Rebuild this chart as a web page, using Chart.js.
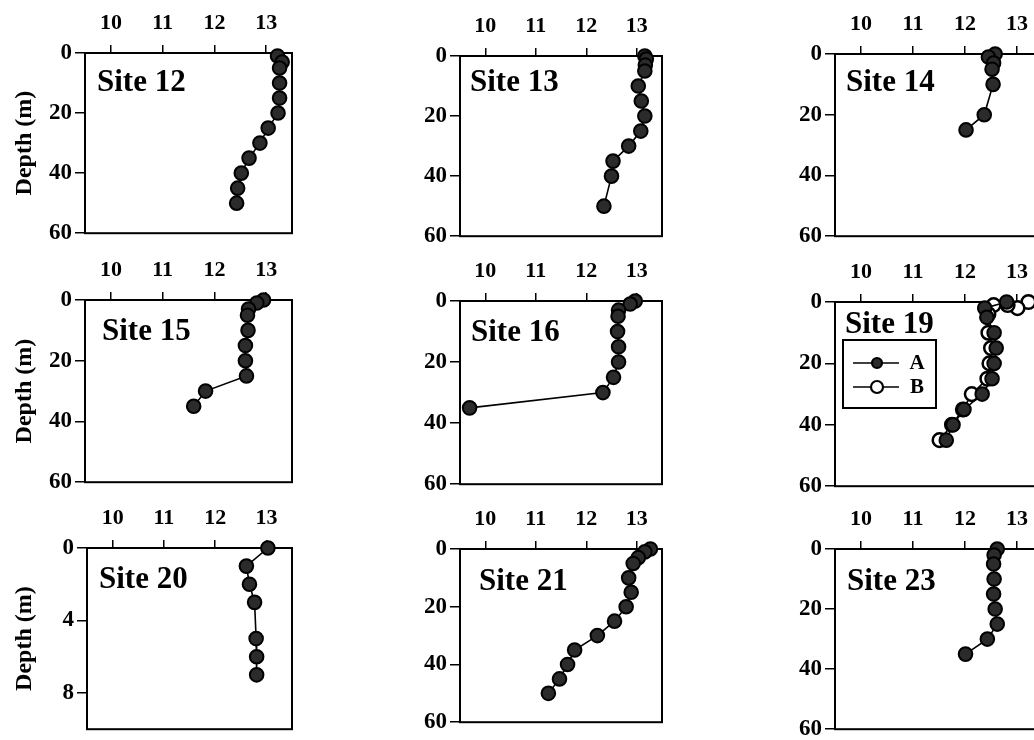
<!DOCTYPE html>
<html>
<head>
<meta charset="utf-8">
<script src="https://cdn.jsdelivr.net/npm/chart.js@4.4.0/dist/chart.umd.min.js"></script>
<style>
html, body { margin: 0; padding: 0; background: #fff; overflow: hidden; }
body { width: 1034px; height: 740px; position: relative; }
.panel { position: absolute; }
</style>
</head>
<body>
<script>
// tick labels
var tempTicks = [10, 11, 12, 13];
var depthTicks = [0, 20, 40, 60];
var depthTicks20 = [0, 4, 8];

// data: depth (m) vs value on top axis
var site12Depth = [1, 3, 5, 10, 15, 20, 25, 30, 35, 40, 45, 50];
var site12Temp  = [13.22, 13.31, 13.26, 13.26, 13.26, 13.23, 13.04, 12.88, 12.67, 12.52, 12.45, 12.43];

var site13Depth = [0, 1, 3, 5, 10, 15, 20, 25, 30, 35, 40, 50];
var site13Temp  = [13.16, 13.19, 13.17, 13.16, 13.03, 13.09, 13.16, 13.08, 12.84, 12.53, 12.50, 12.35];

var site14Depth = [0, 1, 3, 5, 10, 20, 25];
var site14Temp  = [12.58, 12.45, 12.55, 12.52, 12.54, 12.37, 12.02];

var site15Depth = [0, 1, 3, 5, 10, 15, 20, 25, 30, 35];
var site15Temp  = [12.95, 12.82, 12.66, 12.64, 12.65, 12.60, 12.60, 12.62, 11.83, 11.60];

var site16Depth = [0, 1, 3, 5, 10, 15, 20, 25, 30, 35];
var site16Temp  = [12.97, 12.87, 12.64, 12.63, 12.62, 12.64, 12.64, 12.54, 12.33, 9.69];

var site19DepthA = [0, 2, 5, 10, 15, 20, 25, 30, 35, 40, 45];
var site19TempA  = [12.80, 12.38, 12.42, 12.56, 12.60, 12.56, 12.52, 12.33, 11.98, 11.77, 11.64];
var site19DepthB = [0, 2, 1, 1, 4, 10, 15, 20, 25, 30, 35, 40, 45];
var site19TempB  = [13.22, 13.01, 12.82, 12.55, 12.45, 12.45, 12.50, 12.47, 12.43, 12.13, 11.96, 11.75, 11.51];

var site20Depth = [0, 1, 2, 3, 5, 6, 7];
var site20Temp  = [13.03, 12.61, 12.67, 12.77, 12.80, 12.81, 12.81];

var site21Depth = [0, 1, 3, 5, 10, 15, 20, 25, 30, 35, 40, 45, 50];
var site21Temp  = [13.27, 13.16, 13.03, 12.93, 12.84, 12.89, 12.79, 12.56, 12.22, 11.77, 11.63, 11.47, 11.25];

var site23Depth = [0, 2, 5, 10, 15, 20, 25, 30, 35];
var site23Temp  = [12.62, 12.56, 12.55, 12.56, 12.55, 12.58, 12.62, 12.43, 12.01];

var FONT = "'Liberation Serif', 'Times New Roman', serif";

function pts(depth, temp) {
	var out = [];
	for (var i = 0; i < depth.length; i++) out.push({x: temp[i], y: depth[i]});
	return out;
}

function filled(depth, temp) {
	return {label: 'A', data: pts(depth, temp), showLine: true, borderColor: '#000', borderWidth: 1.6,
		pointRadius: 6.8, pointBorderWidth: 2, pointBackgroundColor: '#2b2b2b', pointBorderColor: '#000', clip: false};
}
function open(depth, temp) {
	return {label: 'B', data: pts(depth, temp), showLine: true, borderColor: '#000', borderWidth: 1.6,
		pointRadius: 6.8, pointBorderWidth: 2.5, pointBackgroundColor: '#fff', pointBorderColor: '#000', clip: false};
}

// layout: plot box [left, top, width, height], label offset inside plot
var panels = [
	{name: 'Site 12', box: [85, 53, 207, 181], lab: [12, 30], col: 0, sets: [filled(site12Depth, site12Temp)]},
	{name: 'Site 13', box: [460, 56, 202, 181], lab: [10, 27], col: 1, sets: [filled(site13Depth, site13Temp)]},
	{name: 'Site 14', box: [835, 54, 208, 183], lab: [11, 29], col: 2, sets: [filled(site14Depth, site14Temp)]},
	{name: 'Site 15', box: [85, 300, 207, 183], lab: [17, 32], col: 0, sets: [filled(site15Depth, site15Temp)]},
	{name: 'Site 16', box: [460, 301, 202, 184], lab: [11, 32], col: 1, sets: [filled(site16Depth, site16Temp)]},
	{name: 'Site 19', box: [835, 302, 208, 185], lab: [10, 23], col: 2, legend: true,
		sets: [filled(site19DepthA, site19TempA), open(site19DepthB, site19TempB)]},
	{name: 'Site 20', box: [87, 548, 205, 182], lab: [12, 32], col: 0, maxY: 10, yTicks: depthTicks20,
		sets: [filled(site20Depth, site20Temp)]},
	{name: 'Site 21', box: [460, 549, 202, 174], lab: [19, 33], col: 1, sets: [filled(site21Depth, site21Temp)]},
	{name: 'Site 23', box: [835, 549, 208, 181], lab: [12, 33], col: 2, sets: [filled(site23Depth, site23Temp)]}
];

var boxPlugin = {
	id: 'boxPlugin',
	beforeDatasetsDraw: function(chart) {
		var a = chart.chartArea, ctx = chart.ctx, p = chart.options.plugins.boxPlugin;
		ctx.save();
		ctx.strokeStyle = '#000';
		ctx.lineWidth = 2;
		ctx.strokeRect(a.left, a.top, a.right - a.left, a.bottom - a.top);
		ctx.fillStyle = '#000';
		ctx.font = 'bold 31px ' + FONT;
		ctx.textBaseline = 'middle';
		ctx.textAlign = 'left';
		ctx.fillText(p.name, a.left + p.lab[0], a.top + p.lab[1]);
		ctx.restore();
	},
	afterDatasetsDraw: function(chart) {
		var p = chart.options.plugins.boxPlugin;
		if (!p.legend) return;
		var a = chart.chartArea, ctx = chart.ctx;
		var lx = a.left + 8, ly = a.top + 38;
		ctx.save();
		ctx.fillStyle = '#fff';
		ctx.fillRect(lx, ly, 93, 68);
		ctx.strokeStyle = '#000';
		ctx.lineWidth = 2;
		ctx.strokeRect(lx, ly, 93, 68);
		var rows = [[ly + 23, '#2b2b2b', 'A', 5], [ly + 47, '#fff', 'B', 6]];
		ctx.font = 'bold 21px ' + FONT;
		ctx.textAlign = 'center';
		ctx.textBaseline = 'middle';
		for (var i = 0; i < rows.length; i++) {
			var y = rows[i][0];
			ctx.lineWidth = 1.6;
			ctx.beginPath();
			ctx.moveTo(lx + 10, y);
			ctx.lineTo(lx + 56, y);
			ctx.stroke();
			ctx.beginPath();
			ctx.arc(lx + 34, y, rows[i][3], 0, Math.PI * 2);
			ctx.fillStyle = rows[i][1];
			ctx.fill();
			ctx.lineWidth = 2.2;
			ctx.stroke();
			ctx.fillStyle = '#000';
			ctx.fillText(rows[i][2], lx + 74, y + 1);
		}
		ctx.restore();
	}
};

panels.forEach(function(p) {
	var axisW = p.col == 0 ? p.box[0] : 60;
	var axisH = 50;
	var div = document.createElement('div');
	div.className = 'panel';
	var w = p.box[2] + axisW + 12;
	var h = p.box[3] + axisH + 16;
	div.style.left = (p.box[0] - axisW) + 'px';
	div.style.top = (p.box[1] - axisH) + 'px';
	var cv = document.createElement('canvas');
	cv.width = w;
	cv.height = h;
	div.appendChild(cv);
	document.body.appendChild(div);
	var yTicks = p.yTicks || depthTicks;
	new Chart(cv, {
		type: 'scatter',
		data: {datasets: p.sets},
		plugins: [boxPlugin],
		options: {
			responsive: false,
			animation: false,
			layout: {padding: {left: 0, top: 0, right: 12, bottom: 16}},
			plugins: {
				legend: {display: false},
				tooltip: {enabled: false},
				boxPlugin: {name: p.name, lab: p.lab, legend: p.legend}
			},
			scales: {
				x: {
					type: 'linear', position: 'top', min: 9.5, max: 13.5,
					afterBuildTicks: function(s) { s.ticks = tempTicks.map(function(v) { return {value: v}; }); },
					afterFit: function(s) { s.height = axisH; },
					ticks: {color: '#000', padding: 8, font: {family: FONT, size: 22, weight: 'bold'}},
					grid: {drawOnChartArea: false, tickLength: 8, color: '#000', lineWidth: 1.5},
					border: {color: '#000', width: 2}
				},
				y: {
					type: 'linear', reverse: true, min: 0, max: p.maxY || 60,
					afterBuildTicks: function(s) { s.ticks = yTicks.map(function(v) { return {value: v}; }); },
					afterFit: function(s) { s.width = axisW; },
					ticks: {color: '#000', padding: 3, font: {family: FONT, size: 23, weight: 'bold'}},
					grid: {drawOnChartArea: false, tickLength: 10, color: '#000', lineWidth: 1.5},
					border: {color: '#000', width: 2},
					title: {display: p.col == 0, text: 'Depth (m)', color: '#000', padding: {top: 10, bottom: 0},
						font: {family: FONT, size: 24, weight: 'bold'}}
				}
			}
		}
	});
});
</script>
</body>
</html>
